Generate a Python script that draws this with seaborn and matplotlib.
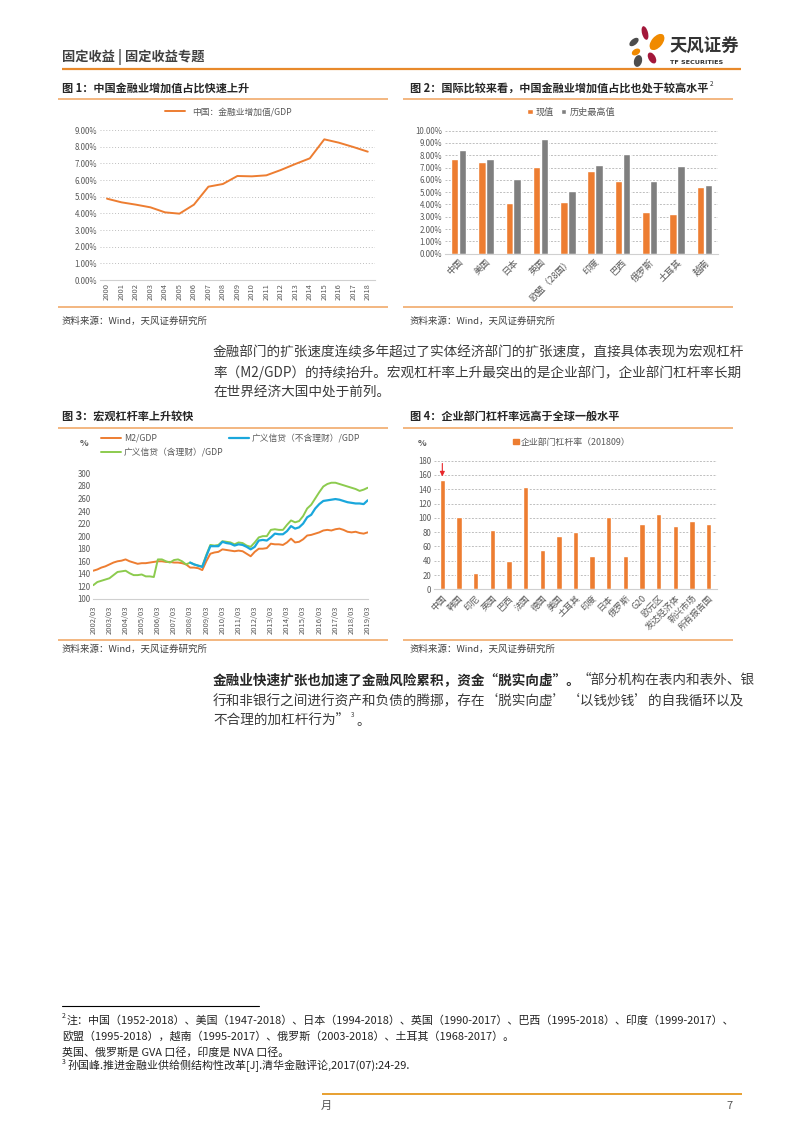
import numpy as np
import pandas as pd
import matplotlib
matplotlib.use("Agg")
import matplotlib.pyplot as plt
import seaborn as sns
from matplotlib.patches import Ellipse, Patch

# ---------------- data ----------------
years1 = ["2000", "2001", "2002", "2003", "2004", "2005", "2006", "2007", "2008", "2009",
          "2010", "2011", "2012", "2013", "2014", "2015", "2016", "2017", "2018"]
fin_share = [4.88, 4.66, 4.52, 4.36, 4.06, 3.98, 4.52, 5.60, 5.76, 6.24,
             6.22, 6.28, 6.60, 6.96, 7.30, 8.44, 8.24, 7.98, 7.70]

countries2 = ["中国", "美国", "日本", "英国", "欧盟（28国）", "印度", "巴西", "俄罗斯", "土耳其", "越南"]
current2 = [7.67, 7.43, 4.09, 7.05, 4.23, 6.75, 5.91, 3.36, 3.22, 5.45]
hist_max2 = [8.43, 7.70, 6.07, 9.32, 5.12, 7.21, 8.10, 5.88, 7.13, 5.56]

qtick_labels3 = ["2002/03", "2003/03", "2004/03", "2005/03", "2006/03", "2007/03", "2008/03",
                 "2009/03", "2010/03", "2011/03", "2012/03", "2013/03", "2014/03", "2015/03",
                 "2016/03", "2017/03", "2018/03", "2019/03"]
m2_gdp = [145, 147, 150, 152, 155, 158, 160, 161, 163, 160, 158, 156,
          157, 157, 158, 159, 160, 160, 159, 159, 158, 158, 157, 155,
          150, 150, 149, 146, 160, 172, 174, 175, 179, 178, 177, 176,
          177, 176, 172, 168, 175, 180, 180, 181, 188, 187, 187, 186,
          190, 196, 190, 191, 195, 201, 202, 204, 206, 209, 210, 209,
          211, 212, 210, 207, 206, 207, 205, 204, 206]
credit_incl = [122, 127, 129, 131, 133, 138, 143, 144, 145, 141, 138, 138,
               139, 136, 136, 135, 163, 163, 160, 158, 162, 163, 160, 155,
               158, 155, 153, 152, 170, 186, 185, 186, 192, 191, 190, 187,
               190, 189, 185, 183, 190, 198, 200, 200, 210, 211, 210, 210,
               218, 225, 222, 224, 232, 244, 250, 260, 270, 279, 283, 285,
               285, 283, 281, 279, 277, 275, 272, 274, 277]
credit_excl_start = 24  # series begins 2008/03
credit_excl = [158, 155, 153, 151, 168, 184, 184, 184, 191, 189, 188, 185,
               187, 186, 183, 179, 183, 193, 194, 193, 198, 204, 203, 203,
               208, 216, 212, 214, 220, 230, 234, 244, 251, 256, 257, 258,
               259, 258, 256, 254, 253, 252, 252, 251, 257]

countries4 = ["中国", "韩国", "印尼", "英国", "巴西", "法国", "德国", "美国", "土耳其", "印度",
              "日本", "俄罗斯", "G20", "欧元区", "发达经济体", "新兴市场", "所有报告国"]
corp_lev = [153, 101, 23, 83, 40, 143, 55, 74, 80, 46, 101, 46, 91, 106, 89, 95, 91]

# ---------------- style ----------------
sns.set_theme(style="white")
FONTS = ["Noto Sans CJK SC", "DejaVu Sans"]
plt.rcParams["font.family"] = FONTS
plt.rcParams["axes.unicode_minus"] = False

ORANGE = "#ED7D31"
GRAY = "#7F7F7F"
BLUE = "#1AA7DC"
GREEN = "#8CCB4E"
TICK = "#595959"
LINE_OR = "#F0A35E"
TXT = "#3A3A3A"

W, H = 802, 1133
fig = plt.figure(figsize=(W / 100, H / 100), dpi=100)
fig.patch.set_facecolor("white")


def rect(l, r, t, b):
    return [l / W, 1 - b / H, (r - l) / W, (b - t) / H]


def fy(y):
    return 1 - y / H


# overlay axes in pixel coordinates for page decoration
ov = fig.add_axes([0, 0, 1, 1])
ov.set_xlim(0, W)
ov.set_ylim(H, 0)
ov.axis("off")
ov.patch.set_alpha(0)

# header
ov.text(62, 57, "固定收益 | 固定收益专题", fontsize=9.5, color="#404040", fontweight="bold", va="center")
ov.plot([62, 741], [69, 69], color="#E8892B", lw=1.6, solid_capstyle="butt")
# logo
for (cx, cy, w, h, ang, col) in [
    (645, 33, 6, 14, -15, "#A3173A"),
    (634, 42, 6, 11, 50, "#4D4D4D"),
    (657, 42, 11, 19, 40, "#F08A00"),
    (636, 52, 6, 9, 60, "#F08A00"),
    (638, 61, 8, 12, 15, "#4D4D4D"),
    (652, 58, 7, 12, -30, "#A3173A"),
]:
    ov.add_patch(Ellipse((cx, cy), w, h, angle=ang, color=col, lw=0))
ov.text(669, 47, "天风证券", fontsize=12.5, fontweight="bold", color="#333333", va="center")
ov.text(670, 62, "TF SECURITIES", fontsize=4.6, fontweight="bold", color="#333333", va="center",
        family=["DejaVu Sans"])

# figure titles and separators
ov.text(62, 88, "图 1：中国金融业增加值占比快速上升", fontsize=8, fontweight="bold", color="#262626", va="center")
t2 = ov.text(410, 88, "图 2：国际比较来看，中国金融业增加值占比也处于较高水平", fontsize=8, fontweight="bold",
             color="#262626", va="center")
ov.text(62, 416, "图 3：宏观杠杆率上升较快", fontsize=8, fontweight="bold", color="#262626", va="center")
ov.text(410, 416, "图 4：企业部门杠杆率远高于全球一般水平", fontsize=8, fontweight="bold", color="#262626", va="center")
for (x0, x1, y) in [(58, 388, 98.5), (403, 733, 98.5), (58, 388, 307), (403, 733, 307),
                    (58, 388, 428), (403, 733, 428), (58, 388, 640), (403, 733, 640)]:
    ov.plot([x0, x1], [y, y], color=LINE_OR, lw=1.1, solid_capstyle="butt")
for (x, y) in [(62, 321), (410, 321), (62, 649), (410, 649)]:
    ov.text(x, y, "资料来源：Wind，天风证券研究所", fontsize=6.8, color="#404040", va="center")

# paragraphs
PFS = 9.8
p1 = ["金融部门的扩张速度连续多年超过了实体经济部门的扩张速度，直接具体表现为宏观杠杆",
      "率（M2/GDP）的持续抬升。宏观杠杆率上升最突出的是企业部门，企业部门杠杆率长期",
      "在世界经济大国中处于前列。"]
for i, s in enumerate(p1):
    ov.text(213, 352 + i * 20.5, s, fontsize=PFS, color=TXT, va="center")

renderer = fig.canvas.get_renderer()
b1 = ov.text(213, 680, "金融业快速扩张也加速了金融风险累积，资金“脱实向虚”。", fontsize=PFS,
             color="#262626", fontweight="bold", va="center")
bb = b1.get_window_extent(renderer)
ov.text(bb.x1 - 3, 680, "“部分机构在表内和表外、银", fontsize=PFS, color=TXT, va="center")
ov.text(213, 700.5, "行和非银行之间进行资产和负债的腾挪，存在‘脱实向虚’‘以钱炒钱’的自我循环以及",
        fontsize=PFS, color=TXT, va="center")
b3 = ov.text(213, 721, "不合理的加杠杆行为”", fontsize=PFS, color=TXT, va="center")
bb3 = b3.get_window_extent(renderer)
ov.text(bb3.x1 + 2, 715, "3", fontsize=4.5, color=TXT, va="center")
ov.text(bb3.x1 + 7, 721, "。", fontsize=PFS, color=TXT, va="center")
bb2 = t2.get_window_extent(renderer)
ov.text(bb2.x1 + 1, 84, "2", fontsize=4.5, color="#262626", va="center")

# footnotes
ov.plot([62, 259], [1006, 1006], color="#000000", lw=0.8)
FFS = 7.9
ov.text(62, 1016, "2", fontsize=5, color="#222222", va="center")
ov.text(67, 1020, "注：中国（1952-2018）、美国（1947-2018）、日本（1994-2018）、英国（1990-2017）、巴西（1995-2018）、印度（1999-2017）、",
        fontsize=FFS, color="#222222", va="center")
ov.text(62, 1036, "欧盟（1995-2018），越南（1995-2017）、俄罗斯（2003-2018）、土耳其（1968-2017）。",
        fontsize=FFS, color="#222222", va="center")
ov.text(62, 1052, "英国、俄罗斯是 GVA 口径，印度是 NVA 口径。", fontsize=FFS, color="#222222", va="center")
ov.text(62, 1062, "3", fontsize=5, color="#222222", va="center")
ov.text(67, 1066, "孙国峰.推进金融业供给侧结构性改革[J].清华金融评论,2017(07):24-29.", fontsize=FFS,
        color="#222222", va="center")

# page footer
ov.plot([322, 742], [1094, 1094], color="#E8A030", lw=1.4, solid_capstyle="butt")
ov.text(321, 1106, "月", fontsize=8, color="#555555", va="center")
ov.text(733, 1106, "7", fontsize=8, color="#555555", va="center", ha="right")


def style_axes(ax, grid=True, gridls=(0, (1, 2))):
    for s in ["top", "right", "left"]:
        ax.spines[s].set_visible(False)
    ax.spines["bottom"].set_color("#D0D0D0")
    ax.spines["bottom"].set_linewidth(0.8)
    ax.tick_params(axis="both", colors=TICK, length=0, pad=2)
    ax.set_xlabel("")
    ax.set_ylabel("")
    if grid:
        ax.yaxis.grid(True, linestyle=gridls, color="#BFBFBF", linewidth=0.7)
        ax.set_axisbelow(True)
    else:
        ax.yaxis.grid(False)
    ax.xaxis.grid(False)
    ax.set_facecolor("none")


# ---------------- Chart 1 ----------------
ax1 = fig.add_axes(rect(99.75, 375, 130, 280))
x1 = np.arange(len(years1))
sns.lineplot(x=x1, y=fin_share, ax=ax1, color=ORANGE, lw=1.4, label="中国：金融业增加值/GDP")
ax1.set_xlim(-0.5, len(years1) - 0.5)
ax1.set_ylim(0, 9)
style_axes(ax1)
ax1.set_yticks(range(0, 10))
ax1.set_yticklabels([f"{v:.2f}%" for v in range(0, 10)], fontsize=5.7)
ax1.set_xticks(x1)
ax1.set_xticklabels(years1, rotation=90, fontsize=5.4)
ax1.set_xticks(np.arange(-0.5, len(years1)), minor=True)
ax1.tick_params(axis="x", which="minor", length=3, color="#D0D0D0")
ax1.legend(loc="center", bbox_to_anchor=(228 / W, fy(112)), bbox_transform=fig.transFigure,
           frameon=False, fontsize=6.3, handlelength=2.3, labelcolor=TICK)

# ---------------- Chart 2 ----------------
ax2 = fig.add_axes(rect(445, 718, 130.7, 253.7))
df2 = pd.DataFrame({
    "country": countries2 * 2,
    "type": ["现值"] * len(countries2) + ["历史最高值"] * len(countries2),
    "value": current2 + hist_max2,
})
sns.barplot(data=df2, x="country", y="value", hue="type", palette=[ORANGE, GRAY],
            width=0.58, gap=0.06, saturation=1, ax=ax2)
ax2.set_xlim(-0.5, len(countries2) - 0.5)
ax2.set_ylim(0, 10)
style_axes(ax2, gridls=(0, (2, 1.5)))
ax2.set_yticks(range(0, 11))
ax2.set_yticklabels([f"{v:.2f}%" for v in range(0, 11)], fontsize=5.7)
ax2.set_xticks(range(len(countries2)))
ax2.set_xticklabels(countries2, rotation=45, ha="right", rotation_mode="anchor", fontsize=6.6)
ax2.tick_params(axis="x", pad=3)
ax2.legend(loc="center", bbox_to_anchor=(571 / W, fy(112)), bbox_transform=fig.transFigure,
           ncol=2, frameon=False, fontsize=6.6, handlelength=0.6, handleheight=0.6,
           handletextpad=0.3, columnspacing=0.8, labelcolor=TICK)

# ---------------- Chart 3 ----------------
ax3 = fig.add_axes(rect(93.3, 367.7, 473.3, 599))
x3 = np.arange(len(m2_gdp))
sns.lineplot(x=x3, y=m2_gdp, ax=ax3, color=ORANGE, lw=1.4, label="M2/GDP")
sns.lineplot(x=x3, y=credit_incl, ax=ax3, color=GREEN, lw=1.4, label="广义信贷（含理财）/GDP")
sns.lineplot(x=np.arange(credit_excl_start, credit_excl_start + len(credit_excl)), y=credit_excl,
             ax=ax3, color=BLUE, lw=1.6, label="广义信贷（不含理财）/GDP")
ax3.set_xlim(0, len(m2_gdp) - 1)
ax3.set_ylim(100, 300)
style_axes(ax3, grid=False)
ax3.set_yticks(range(100, 301, 20))
ax3.set_yticklabels([str(v) for v in range(100, 301, 20)], fontsize=5.7)
ax3.set_xticks(np.arange(0, len(m2_gdp), 4))
ax3.set_xticklabels(qtick_labels3, rotation=90, fontsize=5.5)
ax3.tick_params(axis="x", length=3, color="#D0D0D0")
ax3.legend(loc="upper left", bbox_to_anchor=(101 / W, fy(434)), bbox_transform=fig.transFigure,
           ncol=2, frameon=False, fontsize=6.3, handlelength=2.3, handletextpad=0.3,
           columnspacing=0.6, labelspacing=0.55, labelcolor=TICK, borderaxespad=0, borderpad=0)
ov.text(80, 443, "%", fontsize=6.5, color=TICK, va="center", fontweight="bold")

# ---------------- Chart 4 ----------------
ax4 = fig.add_axes(rect(434, 717, 460.7, 589.3))
sns.barplot(x=countries4, y=corp_lev, color=ORANGE, width=0.32, saturation=1, ax=ax4)
ax4.set_xlim(-0.5, len(countries4) - 0.5)
ax4.set_ylim(0, 180)
style_axes(ax4, gridls=(0, (2, 1.5)))
ax4.set_yticks(range(0, 181, 20))
ax4.set_yticklabels([str(v) for v in range(0, 181, 20)], fontsize=5.7)
ax4.set_xticks(range(len(countries4)))
ax4.set_xticklabels(countries4, rotation=45, ha="right", rotation_mode="anchor", fontsize=6.4)
ax4.tick_params(axis="x", pad=3)
ax4.annotate("", xy=(0, corp_lev[0] + 1), xytext=(0, 180),
             arrowprops=dict(arrowstyle="-|>", color="#E8262A", lw=0.8, mutation_scale=7))
ax4.legend(handles=[Patch(color=ORANGE, label="企业部门杠杆率（201809）")], loc="center",
           bbox_to_anchor=(572 / W, fy(442)), bbox_transform=fig.transFigure, frameon=False,
           fontsize=6.4, handlelength=0.6, handleheight=0.6, handletextpad=0.3, labelcolor=TICK)
ov.text(418, 443, "%", fontsize=6.5, color=TICK, va="center", fontweight="bold")

fig.savefig("out.png", dpi=100)
